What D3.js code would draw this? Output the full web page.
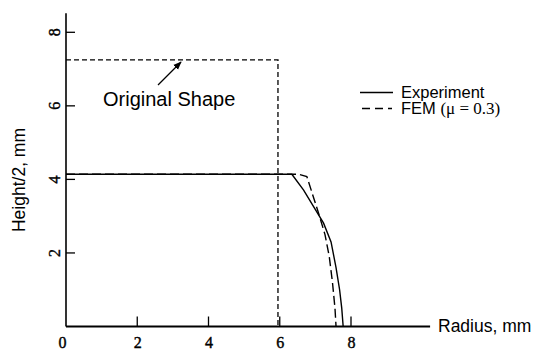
<!DOCTYPE html>
<html><head><meta charset="utf-8">
<script src="https://cdn.jsdelivr.net/npm/d3@7"></script>
<style>body{margin:0;background:#fff}svg{display:block}</style>
</head><body>
<svg id="c" width="543" height="350"></svg>
<script>
const xTicks = [0, 2, 4, 6, 8];
const yTicks = [2, 4, 6, 8];
const expR = [0, 6.34, 6.67, 6.95, 7.23, 7.44, 7.58, 7.68, 7.74, 7.78];
const expH = [4.14, 4.14, 3.71, 3.26, 2.81, 2.3, 1.6, 1.0, 0.5, 0];
const femR = [0, 6.53, 6.76, 7.09, 7.27, 7.39, 7.48, 7.55, 7.58];
const femH = [4.14, 4.14, 4.08, 3.08, 2.5, 1.9, 1.2, 0.5, 0];
const origR = [0, 5.95, 5.95];
const origH = [7.25, 7.25, 0];
const legendLabels = ["Experiment", "FEM (\u03bc = 0.3)"];

const svg = d3.select("#c");
const x = d3.scaleLinear().domain([0, 8]).range([66, 351]);
const y = d3.scaleLinear().domain([0, 8]).range([326.5, 32.3]);
const sans = "'Liberation Sans', Arial, sans-serif";
const serif = "'Liberation Serif', 'Times New Roman', serif";

// axes lines
svg.append("line").attr("x1", x(0)).attr("x2", x(10.22)).attr("y1", y(0)).attr("y2", y(0))
  .attr("stroke", "#000").attr("stroke-width", 1.8);
svg.append("line").attr("x1", x(0)).attr("x2", x(0)).attr("y1", y(0)).attr("y2", y(8.52))
  .attr("stroke", "#000").attr("stroke-width", 1.6);

// x axis ticks (inward) + labels
const xa = svg.append("g").attr("transform", `translate(0,${y(0)})`)
  .call(d3.axisBottom(x).tickValues(xTicks).tickSize(0).tickPadding(10).tickFormat(d3.format("d")));
xa.select(".domain").remove();
xa.selectAll("text").attr("font-family", serif).attr("font-size", 16).attr("fill", "#000")
  .attr("stroke", "#000").attr("stroke-width", 0.4);
xa.selectAll(".tick").filter(d => d === 0).select("text").attr("dx", -4);
xTicks.filter(d => d > 0).forEach(d => {
  svg.append("line").attr("x1", x(d)).attr("x2", x(d)).attr("y1", y(0)).attr("y2", y(0) - 10)
    .attr("stroke", "#000").attr("stroke-width", 1.3);
});

// y axis ticks (inward) + rotated labels
yTicks.forEach(d => {
  svg.append("line").attr("x1", x(0)).attr("x2", x(0) + 9).attr("y1", y(d)).attr("y2", y(d))
    .attr("stroke", "#000").attr("stroke-width", 1.3);
  svg.append("text").attr("transform", `translate(${x(0) - 6},${y(d)}) rotate(-90)`)
    .attr("text-anchor", "middle").attr("font-family", serif).attr("font-size", 16)
    .attr("stroke", "#000").attr("stroke-width", 0.4).text(d);
});

// axis titles
svg.append("text").attr("x", 438).attr("y", 332).attr("font-family", sans).attr("font-size", 17.5)
  .text("Radius, mm");
svg.append("text").attr("transform", `translate(25,180) rotate(-90)`).attr("text-anchor", "middle")
  .attr("font-family", sans).attr("font-size", 17.5).text("Height/2, mm");

const line = d3.line().x(d => x(d[0])).y(d => y(d[1]));
// original shape
svg.append("path").attr("d", line(origR.map((r, i) => [r, origH[i]])))
  .attr("fill", "none").attr("stroke", "#000").attr("stroke-width", 1.3).attr("stroke-dasharray", "5,3");
// experiment
svg.append("path").attr("d", line(expR.map((r, i) => [r, expH[i]])))
  .attr("fill", "none").attr("stroke", "#000").attr("stroke-width", 1.4);
// FEM
svg.append("path").attr("d", line(femR.map((r, i) => [r, femH[i]])))
  .attr("fill", "none").attr("stroke", "#000").attr("stroke-width", 1.4).attr("stroke-dasharray", "9,4");

// annotation
svg.append("defs").append("marker").attr("id", "ah").attr("viewBox", "0 0 10 10").attr("refX", 9).attr("refY", 5)
  .attr("markerWidth", 7).attr("markerHeight", 7).attr("orient", "auto")
  .append("path").attr("d", "M0,1 L10,5 L0,9 Z").attr("fill", "#000");
svg.append("line").attr("x1", 158).attr("y1", 85).attr("x2", 181).attr("y2", 62)
  .attr("stroke", "#000").attr("stroke-width", 1.2).attr("marker-end", "url(#ah)");
svg.append("text").attr("x", 103).attr("y", 106).attr("font-family", sans).attr("font-size", 20)
  .text("Original Shape");

// legend
const lg = svg.append("g");
lg.append("line").attr("x1", 360).attr("x2", 393).attr("y1", 92.5).attr("y2", 92.5).attr("stroke", "#000").attr("stroke-width", 1.4);
lg.append("line").attr("x1", 362).attr("x2", 392).attr("y1", 108.5).attr("y2", 108.5).attr("stroke", "#000").attr("stroke-width", 1.4).attr("stroke-dasharray", "8,5");
lg.append("text").attr("x", 401).attr("y", 97.5).attr("font-family", sans).attr("font-size", 16.5).text(legendLabels[0]);
const t2 = lg.append("text").attr("x", 401).attr("y", 114).attr("font-family", sans).attr("font-size", 16.5);
t2.append("tspan").text("FEM ");
t2.append("tspan").attr("font-family", serif).attr("font-size", 17).text("(\u03bc = 0.3)");
</script>
</body></html>
